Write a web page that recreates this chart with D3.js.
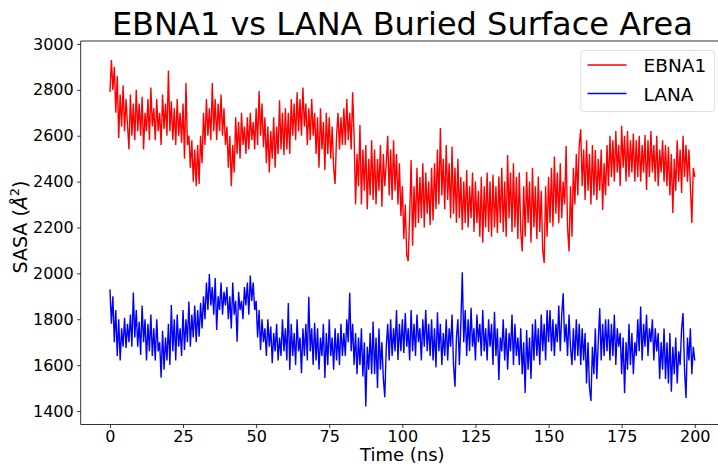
<!DOCTYPE html>
<html>
<head>
<meta charset="utf-8">
<script src="https://cdn.jsdelivr.net/npm/d3@7"></script>
<style>
  body { margin: 0; background: #fff; }
  svg { display: block; font-family: "DejaVu Sans", sans-serif; }
</style>
</head>
<body>
<svg id="chart" width="718" height="465"></svg>
<script>
// chart data (one sample every 0.5 ns)
let title = "EBNA1 vs LANA Buried Surface Area";
let seriesNames = ["EBNA1", "LANA"];
let seriesColors = ["#ff0000", "#0000ff"];
let xTicks = [0, 25, 50, 75, 100, 125, 150, 175, 200];
let yTicks = [1400, 1600, 1800, 2000, 2200, 2400, 2600, 2800, 3000];
let timeStep = 0.5;

let ebna1 = [
  2790, 2930, 2800, 2900, 2700, 2860, 2590, 2780, 2640, 2820, 2620, 2760, 2650, 2540, 2780, 2600, 2740, 2580, 2800, 2620,
  2740, 2600, 2770, 2540, 2700, 2620, 2760, 2580, 2810, 2640, 2720, 2580, 2760, 2620, 2700, 2560, 2780, 2630, 2740, 2600,
  2884, 2620, 2750, 2580, 2720, 2560, 2760, 2600, 2700, 2570, 2740, 2500, 2830, 2560, 2600, 2460, 2580, 2400, 2540, 2380,
  2560, 2390, 2600, 2480, 2700, 2560, 2760, 2600, 2720, 2580, 2830, 2620, 2760, 2580, 2740, 2620, 2780, 2600, 2720, 2560,
  2640, 2460, 2600, 2380, 2560, 2440, 2680, 2520, 2660, 2500, 2700, 2560, 2640, 2520, 2680, 2540, 2700, 2580, 2660, 2540,
  2720, 2560, 2795, 2600, 2740, 2550, 2680, 2480, 2640, 2440, 2620, 2500, 2680, 2460, 2640, 2520, 2755, 2540, 2700, 2516,
  2720, 2540, 2700, 2520, 2760, 2600, 2740, 2580, 2790, 2620, 2760, 2600, 2810, 2640, 2740, 2560, 2720, 2580, 2760, 2600,
  2700, 2520, 2680, 2460, 2720, 2540, 2660, 2450, 2700, 2520, 2680, 2500, 2640, 2460, 2390, 2600, 2700, 2540, 2680, 2560,
  2720, 2560, 2760, 2580, 2700, 2540, 2790, 2600, 2300, 2520, 2380, 2647, 2300, 2540, 2360, 2560, 2280, 2500, 2340, 2580,
  2320, 2540, 2300, 2500, 2360, 2560, 2290, 2520, 2380, 2480, 2600, 2340, 2540, 2320, 2580, 2360, 2520, 2300, 2480, 2250,
  2380, 2150, 2300, 2080, 2054, 2250, 2494, 2120, 2380, 2200, 2460, 2220, 2420, 2240, 2480, 2200, 2440, 2260, 2400, 2210,
  2460, 2230, 2480, 2280, 2540, 2300, 2634, 2340, 2500, 2280, 2560, 2320, 2480, 2240, 2553, 2260, 2460, 2220, 2500, 2240,
  2420, 2189, 2400, 2220, 2450, 2200, 2380, 2240, 2440, 2180, 2400, 2220, 2360, 2160, 2420, 2133, 2380, 2200, 2440, 2180,
  2400, 2160, 2430, 2200, 2380, 2176, 2422, 2220, 2460, 2180, 2400, 2160, 2516, 2240, 2440, 2180, 2480, 2200, 2420, 2150,
  2440, 2180, 2095, 2380, 2160, 2443, 2220, 2400, 2133, 2460, 2200, 2380, 2150, 2422, 2180, 2360, 2100, 2045, 2380, 2160,
  2420, 2220, 2460, 2203, 2509, 2260, 2440, 2220, 2480, 2240, 2400, 2300, 2555, 2200, 2095, 2380, 2160, 2460, 2300, 2520,
  2340, 2560, 2628, 2380, 2540, 2320, 2580, 2360, 2520, 2300, 2560, 2340, 2538, 2320, 2500, 2360, 2540, 2276, 2480, 2340,
  2560, 2380, 2600, 2420, 2580, 2400, 2620, 2440, 2560, 2381, 2643, 2460, 2600, 2400, 2620, 2420, 2580, 2440, 2610, 2400,
  2580, 2420, 2600, 2400, 2560, 2440, 2603, 2364, 2580, 2420, 2620, 2440, 2560, 2400, 2600, 2380, 2540, 2440, 2580, 2400,
  2560, 2380, 2552, 2340, 2520, 2263, 2500, 2360, 2580, 2400, 2540, 2350, 2600, 2420, 2560, 2400, 2540, 2380, 2220, 2460,
  2420
];

let lana = [
  1930, 1780, 1900, 1700, 1840, 1640, 1800, 1620, 1760, 1680, 1806, 1675, 1780, 1700, 1820, 1680, 1916, 1720, 1840, 1680,
  1789, 1644, 1860, 1700, 1800, 1620, 1780, 1660, 1820, 1640, 1760, 1620, 1800, 1660, 1700, 1545, 1750, 1580, 1720, 1620,
  1780, 1601, 1862, 1660, 1800, 1620, 1820, 1680, 1760, 1640, 1840, 1666, 1800, 1700, 1877, 1680, 1820, 1720, 1860, 1700,
  1840, 1724, 1871, 1760, 1900, 1800, 1960, 1840, 1997, 1860, 1940, 1820, 1980, 1753, 1900, 1840, 1960, 1820, 1920, 1860,
  1940, 1800, 1900, 1760, 1960, 1820, 1880, 1702, 1920, 1840, 1880, 1800, 1940, 1860, 1960, 1820, 1990, 1880, 1960, 1840,
  1880, 1720, 1840, 1666, 1800, 1700, 1760, 1640, 1800, 1680, 1768, 1608, 1740, 1660, 1780, 1620, 1720, 1640, 1800, 1660,
  1760, 1620, 1871, 1579, 1780, 1640, 1740, 1600, 1800, 1660, 1720, 1565, 1760, 1640, 1780, 1620, 1898, 1660, 1760, 1600,
  1784, 1620, 1760, 1580, 1720, 1640, 1780, 1544, 1740, 1600, 1800, 1640, 1720, 1580, 1760, 1620, 1740, 1600, 1780, 1640,
  1740, 1640, 1800, 1700, 1915, 1660, 1780, 1600, 1740, 1560, 1720, 1600, 1760, 1550, 1700, 1420, 1680, 1580, 1740, 1560,
  1790, 1560, 1720, 1500, 1760, 1580, 1700, 1540, 1460, 1680, 1780, 1620, 1800, 1640, 1760, 1660, 1840, 1622, 1780, 1660,
  1800, 1653, 1827, 1680, 1760, 1620, 1840, 1660, 1780, 1640, 1820, 1700, 1760, 1620, 1800, 1680, 1840, 1660, 1780, 1640,
  1800, 1620, 1760, 1590, 1830, 1660, 1780, 1600, 1740, 1640, 1800, 1620, 1760, 1680, 1820, 1600, 1506, 1720, 1800, 1600,
  1780, 2005, 1700, 1840, 1640, 1800, 1660, 1850, 1680, 1760, 1620, 1820, 1700, 1780, 1640, 1840, 1660, 1760, 1620, 1800,
  1680, 1780, 1600, 1833, 1640, 1760, 1535, 1720, 1660, 1800, 1620, 1760, 1580, 1740, 1660, 1820, 1600, 1780, 1640, 1720,
  1600, 1760, 1560, 1700, 1478, 1753, 1580, 1720, 1540, 1780, 1620, 1800, 1640, 1760, 1600, 1820, 1660, 1780, 1620, 1840,
  1700, 1840, 1660, 1800, 1640, 1780, 1700, 1860, 1660, 1820, 1913, 1700, 1780, 1640, 1820, 1680, 1600, 1760, 1620, 1800,
  1640, 1780, 1600, 1760, 1620, 1740, 1520, 1700, 1500, 1444, 1680, 1560, 1760, 1540, 1700, 1848, 1620, 1780, 1640, 1800,
  1660, 1800, 1620, 1780, 1640, 1820, 1600, 1760, 1680, 1740, 1560, 1720, 1477, 1700, 1580, 1780, 1600, 1740, 1560, 1700,
  1640, 1800, 1660, 1855, 1620, 1780, 1680, 1820, 1640, 1760, 1700, 1800, 1620, 1760, 1660, 1740, 1540, 1700, 1580, 1760,
  1540, 1700, 1520, 1740, 1484, 1680, 1560, 1720, 1520, 1660, 1600, 1760, 1827, 1580, 1457, 1720, 1620, 1760, 1560, 1680,
  1620
];

// plot area in pixels (matplotlib style, 5% margins on the data)
let svg = d3.select("#chart");
let plotLeft = 80.7, plotRight = 724, plotTop = 41, plotBottom = 424.5;
let xScale = d3.scaleLinear().domain([-10, 210]).range([plotLeft, plotRight]);
let yScale = d3.scaleLinear().domain([1341, 3013]).range([plotBottom, plotTop]);

// clip so the lines stay inside the axes
svg.append("clipPath").attr("id", "plotClip")
  .append("rect")
  .attr("x", plotLeft).attr("y", plotTop)
  .attr("width", plotRight - plotLeft).attr("height", plotBottom - plotTop);

//draws one time series
function plotSeries(values, color) {
  let lineGen = d3.line()
    .x((d, i) => xScale(i * timeStep))
    .y(d => yScale(d));

  svg.append("path")
    .datum(values)
    .attr("clip-path", "url(#plotClip)")
    .attr("fill", "none")
    .attr("stroke", color)
    .attr("stroke-width", 1.4)
    .attr("d", lineGen);
}

plotSeries(ebna1, seriesColors[0]);
plotSeries(lana, seriesColors[1]);

// axes
let xAxis = d3.axisBottom(xScale).tickValues(xTicks).tickSize(3.5).tickPadding(3)
  .tickFormat(d3.format("d"));
let yAxis = d3.axisLeft(yScale).tickValues(yTicks).tickSize(3.5).tickPadding(3.5)
  .tickFormat(d3.format("d"));

let gx = svg.append("g").attr("transform", `translate(0,${plotBottom})`).call(xAxis);
let gy = svg.append("g").attr("transform", `translate(${plotLeft},0)`).call(yAxis);

[gx, gy].forEach(g => {
  g.selectAll("text")
    .attr("font-family", "DejaVu Sans")
    .attr("font-size", 16)
    .attr("fill", "#000");
  g.selectAll("line").attr("stroke", "#000").attr("stroke-width", 0.8);
  g.select(".domain").remove();
});

// spines: left, bottom and top (right one falls past the page edge)
svg.append("path")
  .attr("d", `M${plotRight},${plotTop}H${plotLeft}V${plotBottom}H${plotRight}`)
  .attr("fill", "none")
  .attr("stroke", "#000")
  .attr("stroke-width", 0.8);

// title and labels
svg.append("text")
  .attr("x", (plotLeft + plotRight) / 2)
  .attr("y", 35)
  .attr("text-anchor", "middle")
  .attr("font-size", 32)
  .text(title);

svg.append("text")
  .attr("x", (plotLeft + plotRight) / 2)
  .attr("y", 460.8)
  .attr("text-anchor", "middle")
  .attr("font-size", 18)
  .text("Time (ns)");

let yLabel = svg.append("text")
  .attr("transform", "translate(27,227) rotate(-90)")
  .attr("text-anchor", "middle")
  .attr("font-size", 19);
yLabel.append("tspan").text("SASA (");
yLabel.append("tspan").attr("font-style", "italic").text("Å");
yLabel.append("tspan").attr("font-size", 13).attr("dy", -8).text("2");
yLabel.append("tspan").attr("dy", 8).text(")");

// legend
let legend = svg.append("g");
legend.append("rect")
  .attr("x", 580.7).attr("y", 50.5)
  .attr("width", 134).attr("height", 61)
  .attr("rx", 3.5)
  .attr("fill", "#fff").attr("fill-opacity", 0.8)
  .attr("stroke", "#d6d6d6").attr("stroke-width", 0.8);

let legendRows = [65, 93.5];
seriesNames.forEach((name, i) => {
  legend.append("line")
    .attr("x1", 587.5).attr("x2", 626.5)
    .attr("y1", legendRows[i]).attr("y2", legendRows[i])
    .attr("stroke", seriesColors[i])
    .attr("stroke-width", 1.4);
  legend.append("text")
    .attr("x", 643.5)
    .attr("y", legendRows[i] + 7)
    .attr("font-size", 18.5)
    .text(name);
});
</script>
</body>
</html>
